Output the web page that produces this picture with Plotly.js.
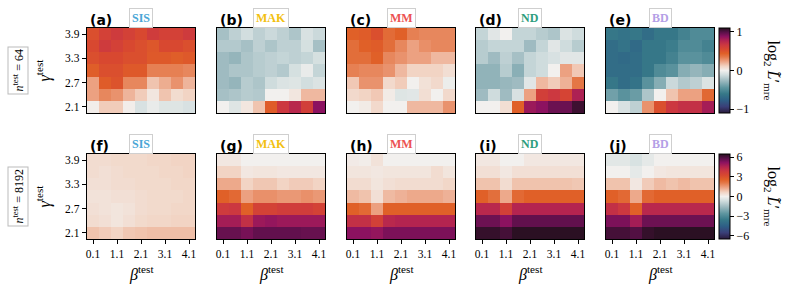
<!DOCTYPE html>
<html>
<head>
<meta charset="utf-8">
<script src="https://cdn.plot.ly/plotly-3.0.1.min.js"></script>
<style>
  html, body { margin: 0; padding: 0; background: #fff; }
  #chart { width: 794px; height: 287px; }
</style>
</head>
<body>
<div id="chart"></div>
<script>
// ---------------- data ----------------
const beta = [0.1, 0.6, 1.1, 1.6, 2.1, 2.6, 3.1, 3.6, 4.1];
const gamma = [3.9, 3.6, 3.3, 3.0, 2.7, 2.4, 2.1];
const betaTicks = [0.1, 1.1, 2.1, 3.1, 4.1];
const gammaTicks = [2.1, 2.7, 3.3, 3.9];
const methods = ["SIS", "MAK", "MM", "ND", "BD"];
const methodColors = ["#4aa6d6", "#f2c010", "#ec5252", "#2e9e7e", "#b49ee6"];
const panelLetters = ["(a)", "(b)", "(c)", "(d)", "(e)", "(f)", "(g)", "(h)", "(i)", "(j)"];
const nTest = ["64", "8192"];
const smallTicks = [-1, 0, 1];
const smallTickText = ["\u22121", "0", "1"];
const largeTicks = [-6, -3, 0, 3, 6];
const largeTickText = ["\u22126", "\u22123", "0", "3", "6"];

// n_test = 64 (rows: gamma 3.9 -> 2.1)
const sis64 = [
  [0.52,0.60,0.64,0.60,0.55,0.63,0.60,0.60,0.64],
  [0.55,0.64,0.60,0.55,0.52,0.48,0.55,0.55,0.52],
  [0.52,0.55,0.55,0.52,0.52,0.47,0.47,0.45,0.47],
  [0.45,0.52,0.52,0.47,0.47,0.33,0.33,0.33,0.31],
  [0.24,0.46,0.50,0.31,0.31,0.15,0.21,0.28,0.19],
  [0.24,0.31,0.28,0.19,0.13,0.04,0.15,0.08,0.11],
  [0.01,0.13,0.13,0.01,-0.09,-0.03,-0.07,-0.07,-0.09]
];
const mak64 = [
  [-0.24,-0.17,-0.11,-0.17,-0.13,-0.17,-0.22,-0.09,-0.13],
  [-0.20,-0.20,-0.24,-0.17,-0.22,-0.17,-0.17,-0.10,-0.24],
  [-0.26,-0.29,-0.22,-0.19,-0.17,-0.15,-0.17,-0.15,-0.10],
  [-0.26,-0.22,-0.22,-0.19,-0.17,-0.20,-0.10,-0.03,-0.15],
  [-0.26,-0.29,-0.19,-0.22,-0.12,-0.08,-0.07,-0.11,-0.08],
  [-0.24,-0.22,-0.19,-0.20,0.00,0.00,0.04,0.18,0.18],
  [0.00,-0.07,0.04,0.15,0.46,0.66,0.75,0.61,0.88]
];
const mm64 = [
  [0.44,0.46,0.52,0.40,0.44,0.33,0.31,0.31,0.31],
  [0.39,0.44,0.46,0.39,0.31,0.24,0.29,0.31,0.31],
  [0.39,0.39,0.44,0.31,0.28,0.24,0.24,0.18,0.18],
  [0.33,0.31,0.31,0.28,0.18,0.11,0.11,0.11,0.07],
  [0.14,0.28,0.28,0.09,0.13,0.00,0.06,0.09,-0.02],
  [0.09,0.11,0.14,0.02,-0.07,-0.06,0.07,0.00,0.09],
  [0.00,0.02,0.09,0.00,0.00,0.18,0.18,0.18,0.28]
];
const nd64 = [
  [-0.15,-0.06,0.00,-0.15,-0.15,-0.19,-0.22,-0.08,-0.12],
  [-0.19,-0.15,-0.15,-0.15,-0.26,-0.15,-0.06,-0.12,-0.19],
  [-0.19,-0.26,-0.17,-0.24,-0.15,-0.12,-0.09,-0.06,-0.06],
  [-0.30,-0.30,-0.19,-0.32,-0.15,-0.12,0.00,0.24,0.14],
  [-0.30,-0.30,-0.28,-0.26,-0.06,0.18,0.13,0.20,0.36],
  [-0.26,-0.12,-0.26,-0.09,0.24,0.61,0.66,0.58,0.79],
  [0.00,0.00,0.07,0.44,0.84,0.88,0.95,0.95,1.05]
];
const bd64 = [
  [-0.61,-0.64,-0.61,-0.68,-0.61,-0.61,-0.55,-0.50,-0.50],
  [-0.68,-0.64,-0.70,-0.61,-0.61,-0.58,-0.50,-0.50,-0.55],
  [-0.68,-0.70,-0.68,-0.61,-0.61,-0.55,-0.46,-0.46,-0.50],
  [-0.68,-0.68,-0.68,-0.61,-0.50,-0.46,-0.33,-0.29,-0.33],
  [-0.61,-0.68,-0.64,-0.46,-0.33,-0.13,-0.20,-0.17,-0.08],
  [-0.39,-0.46,-0.41,-0.22,0.00,0.15,0.24,0.24,0.41],
  [0.00,-0.09,-0.17,0.28,0.52,0.66,0.70,0.70,0.81]
];
// n_test = 8192
const sis8192 = [
  [0.46,0.46,0.52,0.52,0.52,0.59,0.59,0.65,0.65],
  [0.46,0.39,0.46,0.52,0.52,0.52,0.59,0.59,0.65],
  [0.39,0.39,0.46,0.46,0.52,0.52,0.52,0.59,0.59],
  [0.33,0.33,0.39,0.39,0.46,0.52,0.52,0.52,0.59],
  [0.39,0.33,0.26,0.33,0.46,0.52,0.52,0.59,0.59],
  [0.46,0.39,0.26,0.39,0.52,0.59,0.59,0.65,0.65],
  [0.91,0.78,0.65,0.85,0.91,0.98,0.98,0.98,0.98]
];
const mak8192 = [
  [0.20,0.20,0.00,0.00,0.00,0.00,0.00,0.00,0.00],
  [0.65,0.65,0.20,0.26,0.26,0.20,0.20,0.20,0.20],
  [1.30,1.30,0.65,0.85,0.85,0.65,0.78,0.78,0.65],
  [2.60,2.40,1.43,1.69,1.69,1.56,1.56,1.69,1.56],
  [3.77,3.90,2.60,3.51,3.51,3.70,3.70,3.70,3.51],
  [4.81,4.81,4.16,4.94,5.07,4.94,4.94,4.94,4.94],
  [5.66,5.66,5.46,5.72,5.72,5.72,5.72,5.66,5.66]
];
const mm8192 = [
  [0.13,0.07,0.33,0.00,0.00,0.00,0.00,0.00,0.00],
  [0.26,0.26,0.20,0.26,0.26,0.26,0.26,0.46,0.26],
  [0.46,0.46,0.26,0.39,0.46,0.46,0.46,0.46,0.59],
  [1.04,0.91,0.39,1.04,1.17,1.30,1.30,1.30,1.17],
  [2.60,2.40,1.43,2.60,2.60,2.60,2.60,2.60,2.60],
  [4.16,4.16,3.58,4.42,4.55,4.55,4.55,4.55,4.55],
  [5.20,5.20,5.07,5.40,5.40,5.40,5.40,5.40,5.40]
];
const nd8192 = [
  [0.20,0.20,0.00,0.00,0.20,0.20,0.20,0.20,0.20],
  [0.39,0.39,0.20,0.39,0.39,0.39,0.39,0.39,0.39],
  [0.91,0.91,0.46,0.91,0.91,0.91,0.91,0.91,0.85],
  [2.60,2.28,1.30,2.40,2.60,2.60,2.60,2.60,2.60],
  [4.42,4.42,3.58,4.55,4.55,4.55,4.55,4.55,4.55],
  [5.59,5.59,5.20,5.72,5.72,5.72,5.72,5.72,5.72],
  [6.30,6.30,6.10,6.43,6.43,6.43,6.43,6.43,6.43]
];
const bd8192 = [
  [-0.33,-0.33,-0.52,-0.26,0.00,0.00,0.00,0.00,0.00],
  [0.00,0.00,-0.26,0.00,0.20,0.26,0.26,0.26,0.26],
  [0.91,0.91,0.20,0.78,1.04,0.91,1.04,0.91,0.91],
  [2.60,2.40,1.30,2.40,2.60,2.60,2.60,2.60,2.60],
  [4.16,3.90,2.60,4.42,4.42,4.42,4.42,4.42,4.42],
  [5.40,5.40,4.81,5.59,5.59,5.59,5.59,5.59,5.59],
  [6.10,6.10,5.92,6.30,6.43,6.43,6.43,6.43,6.43]
];

const panels = [sis64, mak64, mm64, nd64, bd64, sis8192, mak8192, mm8192, nd8192, bd8192];

// ---------------- style ----------------
const W = 794, H = 287;
const colX = [87, 217, 347, 476, 606];
const panelW = 108;
const rowY = [28, 154];
const panelH = 85;
const cbX = 719;

const stops = [
  [-1.00, "#2a1a3c"], [-0.85, "#3a3f78"], [-0.70, "#2e5f86"], [-0.55, "#367888"],
  [-0.40, "#5f96a0"], [-0.25, "#9ab8be"], [-0.10, "#d2dedf"], [0.00, "#f2f0ee"],
  [0.10, "#f2d4c4"], [0.22, "#eca080"], [0.32, "#e47848"], [0.40, "#e06028"],
  [0.50, "#d84830"], [0.60, "#cc3840"], [0.70, "#b42450"], [0.80, "#8c1260"],
  [0.90, "#581048"], [1.00, "#26101e"]
];
const colorscale = stops.map(s => [(s[0] + 1) / 2, s[1]]);

const serif = "Liberation Serif, Times New Roman, serif";
const px2x = p => p / W;
const px2y = p => 1 - p / H;

const data = [];
const layout = {
  width: W, height: H,
  margin: {l: 0, r: 0, t: 0, b: 0},
  paper_bgcolor: "#ffffff",
  plot_bgcolor: "#ffffff",
  showlegend: false,
  annotations: [],
  font: {family: serif, size: 11, color: "#000"}
};

function cbar(r) {
  const yc = px2y(rowY[r] + panelH / 2);
  return {
    x: px2x(cbX), xanchor: "left", xref: "paper",
    y: yc, yanchor: "middle", yref: "paper",
    len: panelH / H, lenmode: "fraction",
    thickness: 11, thicknessmode: "pixels",
    xpad: 0, ypad: 0,
    outlinewidth: 1, outlinecolor: "#000",
    ticks: "outside", ticklen: 4, tickwidth: 1, tickcolor: "#000",
    tickvals: r === 0 ? smallTicks : largeTicks,
    ticktext: r === 0 ? smallTickText : largeTickText,
    tickfont: {family: serif, size: 12, color: "#000"}
  };
}
layout.coloraxis = {cmin: -1.1, cmax: 1.1, colorscale: colorscale, colorbar: cbar(0)};
layout.coloraxis2 = {cmin: -6.5, cmax: 6.5, colorscale: colorscale, colorbar: cbar(1)};

panels.forEach((z, k) => {
  const r = Math.floor(k / 5), c = k % 5;
  const ax = k === 0 ? "" : String(k + 1);
  data.push({
    type: "heatmap", x: beta, y: gamma, z: z,
    xaxis: "x" + ax, yaxis: "y" + ax,
    coloraxis: r === 0 ? "coloraxis" : "coloraxis2",
    hoverinfo: "skip"
  });
  layout["xaxis" + ax] = {
    domain: [px2x(colX[c]), px2x(colX[c] + panelW)],
    anchor: "y" + ax,
    range: [-0.15, 4.35], fixedrange: true,
    showline: true, mirror: true, linecolor: "#000", linewidth: 1.3,
    showgrid: false, zeroline: false,
    tickvals: betaTicks, ticktext: betaTicks.map(v => v.toFixed(1)),
    ticks: r === 1 ? "outside" : "", ticklen: 4, tickwidth: 1, tickcolor: "#000",
    showticklabels: r === 1,
    tickfont: {family: serif, size: 11.5, color: "#000"}
  };
  layout["yaxis" + ax] = {
    domain: [px2y(rowY[r] + panelH), px2y(rowY[r])],
    anchor: "x" + ax,
    range: [1.95, 4.05], fixedrange: true,
    showline: true, mirror: true, linecolor: "#000", linewidth: 1.3,
    showgrid: false, zeroline: false,
    tickvals: gammaTicks, ticktext: gammaTicks.map(v => v.toFixed(1)),
    ticks: c === 0 ? "outside" : "", ticklen: 4, tickwidth: 1, tickcolor: "#000",
    showticklabels: c === 0,
    tickfont: {family: serif, size: 11.5, color: "#000"}
  };
  // panel letter
  layout.annotations.push({
    xref: "paper", yref: "paper",
    x: px2x(colX[c] + 0.5), y: px2y(rowY[r] - 8),
    xanchor: "left", yanchor: "middle", showarrow: false,
    text: "<b>" + panelLetters[k] + "</b>",
    font: {family: "DejaVu Sans, sans-serif", size: 14, color: "#000"}
  });
  // method label box
  layout.annotations.push({
    xref: "paper", yref: "paper",
    x: px2x(colX[c] + panelW / 2), y: px2y(rowY[r] - 10.5),
    xanchor: "center", yanchor: "middle", showarrow: false,
    text: "<b>" + methods[c] + "</b>",
    font: {family: serif, size: 12, color: methodColors[c]},
    bgcolor: "#ffffff", bordercolor: "#cfcfcf", borderwidth: 1, borderpad: 2
  });
  if (r === 1) {
    layout.annotations.push({
      xref: "paper", yref: "paper",
      x: px2x(colX[c] + panelW / 2), y: px2y(273),
      xanchor: "center", yanchor: "middle", showarrow: false,
      text: "<i>β</i><sup>test</sup>",
      font: {family: serif, size: 16, color: "#000"}
    });
  }
});

for (let r = 0; r < 2; r++) {
  const yc = px2y(rowY[r] + panelH / 2);
  layout.annotations.push({
    xref: "paper", yref: "paper", x: px2x(44), y: yc,
    xanchor: "center", yanchor: "middle", showarrow: false, textangle: -90,
    text: "<i>γ</i><sup>test</sup>",
    font: {family: serif, size: 16, color: "#000"}
  });
  layout.annotations.push({
    xref: "paper", yref: "paper", x: px2x(18), y: yc,
    xanchor: "center", yanchor: "middle", showarrow: false, textangle: -90,
    text: "<i>n</i><sup>test</sup> = " + nTest[r],
    font: {family: serif, size: 12, color: "#000"},
    bgcolor: "#ffffff", bordercolor: "#bbbbbb", borderwidth: 1, borderpad: 2
  });
  layout.annotations.push({
    xref: "paper", yref: "paper", x: px2x(772), y: yc,
    xanchor: "center", yanchor: "middle", showarrow: false, textangle: 90,
    text: "log<sub>2</sub> <i>L\u0303</i>\u2032<sub>mre</sub>",
    font: {family: serif, size: 16, color: "#000"}
  });
}

Plotly.newPlot("chart", data, layout, {staticPlot: true, displayModeBar: false});
</script>
</body>
</html>
